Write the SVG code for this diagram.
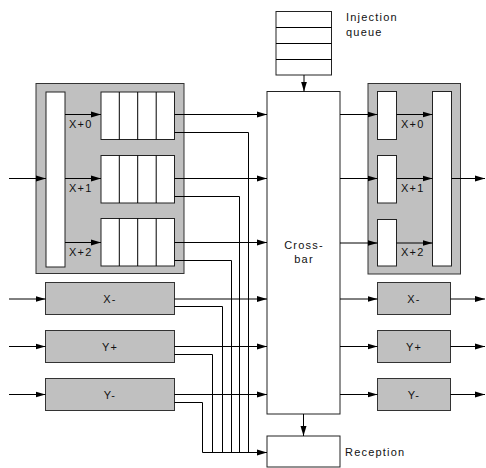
<svg xmlns="http://www.w3.org/2000/svg" width="486" height="468" viewBox="0 0 486 468">
<style>
.g{fill:#c0c0c0;stroke:#333;stroke-width:1}
.w{fill:#fff;stroke:#222;stroke-width:1}
.c{fill:none;stroke:#000;stroke-width:1}
.a{marker-end:url(#ah)}
text{font-family:"Liberation Sans",Arial,sans-serif;font-size:11px;letter-spacing:1.2px;fill:#111}
.m{text-anchor:middle}
</style>
<defs>
<marker id="ah" markerUnits="userSpaceOnUse" markerWidth="10" markerHeight="8" refX="10" refY="4" orient="auto">
<path d="M0,1 L10,4 L0,7 Z" fill="#000"/>
</marker>
</defs>
<rect width="486" height="468" fill="#fff"/>

<g id="inputX">
<rect class="g" x="36" y="83.5" width="148" height="190"/>
<rect class="w" x="46" y="92" width="19" height="175"/>
<rect class="w" x="101" y="92" width="73.5" height="47.5"/>
<line class="c" x1="119.3" y1="92" x2="119.3" y2="139.5"/>
<line class="c" x1="137.7" y1="92" x2="137.7" y2="139.5"/>
<line class="c" x1="156.2" y1="92" x2="156.2" y2="139.5"/>
<rect class="w" x="101" y="155.5" width="73.5" height="47.5"/>
<line class="c" x1="119.3" y1="155.5" x2="119.3" y2="203"/>
<line class="c" x1="137.7" y1="155.5" x2="137.7" y2="203"/>
<line class="c" x1="156.2" y1="155.5" x2="156.2" y2="203"/>
<rect class="w" x="101" y="218.5" width="73.5" height="47.5"/>
<line class="c" x1="119.3" y1="218.5" x2="119.3" y2="266"/>
<line class="c" x1="137.7" y1="218.5" x2="137.7" y2="266"/>
<line class="c" x1="156.2" y1="218.5" x2="156.2" y2="266"/>
<line class="c a" x1="65" y1="114.5" x2="101" y2="114.5"/>
<line class="c a" x1="65" y1="178.5" x2="101" y2="178.5"/>
<line class="c a" x1="65" y1="242.5" x2="101" y2="242.5"/>
<text x="69" y="127.5">X+0</text>
<text x="69" y="191.5">X+1</text>
<text x="69" y="255.5">X+2</text>
</g>

<g id="inXm"><rect class="g" x="45.5" y="282.5" width="129" height="32"/><text class="m" x="110" y="303">X-</text></g>
<g id="inYp"><rect class="g" x="45.5" y="330.5" width="129" height="32"/><text class="m" x="110" y="351">Y+</text></g>
<g id="inYm"><rect class="g" x="45.5" y="378.5" width="129" height="32"/><text class="m" x="110" y="399">Y-</text></g>

<g id="injection">
<rect class="w" x="276" y="11.5" width="55.5" height="63.5"/>
<line class="c" x1="276" y1="27.5" x2="331.5" y2="27.5"/>
<line class="c" x1="276" y1="43.5" x2="331.5" y2="43.5"/>
<line class="c" x1="276" y1="59.5" x2="331.5" y2="59.5"/>
<text x="346" y="21">Injection</text>
<text x="346" y="36">queue</text>
</g>

<g id="crossbar">
<rect class="w" x="267" y="91.5" width="73" height="322.5"/>
<text class="m" x="304" y="249">Cross-</text>
<text class="m" x="304" y="263">bar</text>
</g>

<g id="reception">
<rect class="w" x="267" y="436" width="73" height="31"/>
<text x="345" y="456">Reception</text>
</g>

<g id="outputX">
<rect class="g" x="368" y="83.5" width="92.5" height="190.5"/>
<rect class="w" x="377.5" y="91.5" width="19" height="48"/>
<rect class="w" x="377.5" y="155.5" width="19" height="47.5"/>
<rect class="w" x="377.5" y="219.5" width="19" height="46.5"/>
<rect class="w" x="432.5" y="91.5" width="19" height="174.5"/>
<line class="c a" x1="396.5" y1="114.5" x2="432.5" y2="114.5"/>
<line class="c a" x1="396.5" y1="178.5" x2="432.5" y2="178.5"/>
<line class="c a" x1="396.5" y1="243" x2="432.5" y2="243"/>
<text x="401" y="127.5">X+0</text>
<text x="401" y="191.5">X+1</text>
<text x="401" y="255.5">X+2</text>
</g>

<g id="outXm"><rect class="g" x="377.5" y="282.5" width="73" height="32"/><text class="m" x="414" y="303">X-</text></g>
<g id="outYp"><rect class="g" x="377.5" y="330.5" width="73" height="32"/><text class="m" x="414" y="351">Y+</text></g>
<g id="outYm"><rect class="g" x="377.5" y="378.5" width="73" height="32"/><text class="m" x="414" y="399">Y-</text></g>

<g id="connectors">
<line class="c a" x1="9" y1="178.5" x2="46" y2="178.5"/>
<line class="c a" x1="9" y1="299" x2="45.5" y2="299"/>
<line class="c a" x1="9" y1="346.5" x2="45.5" y2="346.5"/>
<line class="c a" x1="9" y1="394.5" x2="45.5" y2="394.5"/>

<line class="c a" x1="174.5" y1="114.5" x2="267" y2="114.5"/>
<line class="c a" x1="174.5" y1="178.5" x2="267" y2="178.5"/>
<line class="c a" x1="174.5" y1="242.5" x2="267" y2="242.5"/>
<line class="c a" x1="174.5" y1="299" x2="267" y2="299"/>
<line class="c a" x1="174.5" y1="346.5" x2="267" y2="346.5"/>
<line class="c a" x1="174.5" y1="394.5" x2="267" y2="394.5"/>

<polyline class="c" points="174.5,132.5 248.5,132.5 248.5,452.5"/>
<polyline class="c" points="174.5,196.5 239.5,196.5 239.5,452.5"/>
<polyline class="c" points="174.5,260.5 231.5,260.5 231.5,452.5"/>
<polyline class="c" points="174.5,306.5 222.5,306.5 222.5,452.5"/>
<polyline class="c" points="174.5,354.5 212.5,354.5 212.5,452.5"/>
<polyline class="c" points="174.5,402.5 202.5,402.5 202.5,452.5"/>
<line class="c a" x1="202.5" y1="452.5" x2="267" y2="452.5"/>

<line class="c a" x1="304" y1="75" x2="304" y2="91.5"/>
<line class="c a" x1="303.5" y1="414" x2="303.5" y2="436"/>

<line class="c a" x1="340" y1="114.5" x2="377.5" y2="114.5"/>
<line class="c a" x1="340" y1="178.5" x2="377.5" y2="178.5"/>
<line class="c a" x1="340" y1="243" x2="377.5" y2="243"/>
<line class="c a" x1="340" y1="299" x2="377.5" y2="299"/>
<line class="c a" x1="340" y1="346.5" x2="377.5" y2="346.5"/>
<line class="c a" x1="340" y1="394.5" x2="377.5" y2="394.5"/>

<line class="c a" x1="451.5" y1="178.5" x2="485" y2="178.5"/>
<line class="c a" x1="450.5" y1="299" x2="485" y2="299"/>
<line class="c a" x1="450.5" y1="346.5" x2="485" y2="346.5"/>
<line class="c a" x1="450.5" y1="394.5" x2="485" y2="394.5"/>
</g>
</svg>
